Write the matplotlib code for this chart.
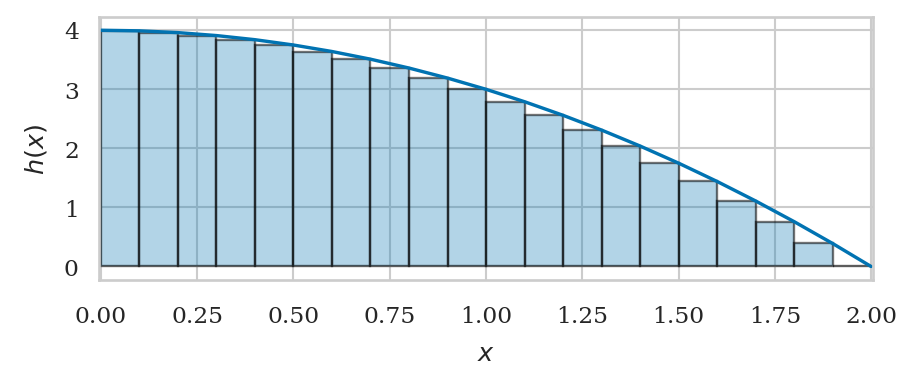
import matplotlib
matplotlib.use('Agg')
import matplotlib.pyplot as plt
import seaborn as sns

# right-endpoint rectangles, width 0.1
bar_left = [0.0, 0.1, 0.2, 0.3, 0.4, 0.5, 0.6, 0.7, 0.8, 0.9,
            1.0, 1.1, 1.2, 1.3, 1.4, 1.5, 1.6, 1.7, 1.8, 1.9]
bar_height = [3.99, 3.96, 3.91, 3.84, 3.75, 3.64, 3.51, 3.36, 3.19, 3.00,
              2.79, 2.56, 2.31, 2.04, 1.75, 1.44, 1.11, 0.76, 0.39, 0.00]

# curve h(x) read at the grid points
curve_x = [0.0, 0.1, 0.2, 0.3, 0.4, 0.5, 0.6, 0.7, 0.8, 0.9, 1.0,
           1.1, 1.2, 1.3, 1.4, 1.5, 1.6, 1.7, 1.8, 1.9, 2.0]
curve_y = [4.00, 3.99, 3.96, 3.91, 3.84, 3.75, 3.64, 3.51, 3.36, 3.19, 3.00,
           2.79, 2.56, 2.31, 2.04, 1.75, 1.44, 1.11, 0.76, 0.39, 0.00]

sns.set_theme(style='whitegrid', palette='colorblind')
plt.rcParams['font.family'] = ['DejaVu Serif']
plt.rcParams['mathtext.fontset'] = 'dejavusans'
blue = sns.color_palette('colorblind')[0]

fig = plt.figure(figsize=(6.0, 2.52), dpi=152.67)
ax = fig.add_axes([99 / 916, 1 - 281 / 385, 774 / 916, 263 / 385])

ax.bar(bar_left, bar_height, width=0.1, align='edge', color=blue, alpha=0.3,
       linewidth=0)
ax.bar(bar_left, bar_height, width=0.1, align='edge', fill=False,
       edgecolor=(0, 0, 0, 0.55), linewidth=1.1)
ax.plot(curve_x, curve_y, color=blue, linewidth=1.6)

ax.set_xlim(-0.005, 2.005)
ax.set_ylim(-0.23, 4.22)
ax.set_xticks([0.0, 0.25, 0.5, 0.75, 1.0, 1.25, 1.5, 1.75, 2.0])
ax.set_xticklabels(['0.00', '0.25', '0.50', '0.75', '1.00', '1.25', '1.50', '1.75', '2.00'])
ax.set_yticks([0, 1, 2, 3, 4])
ax.tick_params(labelsize=11, colors='#262626')
ax.tick_params(axis='x', pad=6)
ax.set_xlabel('$x$', fontsize=12, color='#262626', labelpad=7)
ax.set_ylabel('$h(x)$', fontsize=12, color='#262626', labelpad=7)

fig.savefig('out.png', dpi=152.67)
